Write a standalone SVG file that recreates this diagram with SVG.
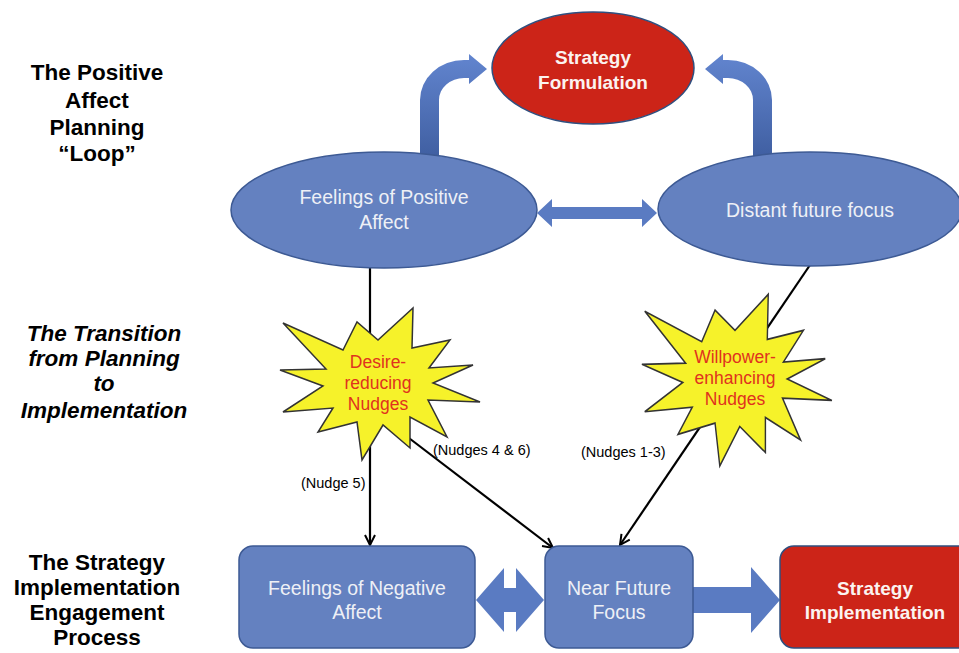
<svg xmlns="http://www.w3.org/2000/svg" width="959" height="653" viewBox="0 0 959 653">
<defs>
<style>
.lbl{font-family:"Liberation Sans",Arial,sans-serif;font-weight:bold;font-size:22.5px;fill:#000;text-anchor:middle}
.it{font-style:italic}
.bt{font-family:"Liberation Sans",Arial,sans-serif;font-size:19.5px;fill:#eef0f6;text-anchor:middle}
.rt{font-family:"Liberation Sans",Arial,sans-serif;font-size:19px;font-weight:bold;fill:#fbf3f0;text-anchor:middle}
.st{font-family:"Liberation Sans",Arial,sans-serif;font-size:17.5px;fill:#e0321e;text-anchor:middle}
.nt{font-family:"Liberation Sans",Arial,sans-serif;font-size:14.5px;fill:#000}
.blue{fill:#6481c0;stroke:#3d5a94;stroke-width:1.5}
.red{fill:#cc2418;stroke:#2f4f7f;stroke-width:1.5}
.bar{fill:#5a7bc2}
.conn{stroke:#000;stroke-width:2.2;fill:none;marker-end:url(#ah)}
.star{fill:#f6f22a;stroke:#333;stroke-width:1.5}
</style>
<linearGradient id="cg" x1="0" y1="0" x2="0" y2="1">
<stop offset="0" stop-color="#6285cf"/>
<stop offset="1" stop-color="#3d5c9e"/>
</linearGradient>
<marker id="ah" viewBox="0 0 14 14" markerWidth="14" markerHeight="14" refX="12" refY="7" orient="auto" markerUnits="userSpaceOnUse">
<path d="M2,2 L12,7 L2,12" fill="none" stroke="#000" stroke-width="2"/>
</marker>
<path id="curl" d="M420,165 V100 A44 40 0 0 1 464 60 H469 V54 L487 69 L469 84 V78 H464 A25 22 0 0 0 439 100 V165 Z" fill="url(#cg)"/>
<polygon id="starshape" points="-98,-13 -52,-14 -95,-60 -35,-33 -21,-61 0,-43 35,-75 34,-35 72,-43 51,-15 95,-18 55,0 102,19 50,17 69,54 32,34 32,65 5,42 -16,77 -21,39 -60,49 -45,25 -95,29 -55,3"/>
</defs>

<g id="labels">
<text class="lbl" x="97" y="80">The Positive</text>
<text class="lbl" x="97" y="108">Affect</text>
<text class="lbl" x="97" y="135">Planning</text>
<text class="lbl" x="97" y="161">“Loop”</text>
<text class="lbl it" x="104" y="341">The Transition</text>
<text class="lbl it" x="104" y="366">from Planning</text>
<text class="lbl it" x="104" y="391">to</text>
<text class="lbl it" x="104" y="418">Implementation</text>
<text class="lbl" x="97" y="570">The Strategy</text>
<text class="lbl" x="97" y="595">Implementation</text>
<text class="lbl" x="97" y="620">Engagement</text>
<text class="lbl" x="97" y="645">Process</text>
</g>

<g id="connectors">
<use href="#curl"/>
<use href="#curl" transform="translate(1192,0) scale(-1,1)"/>
<path class="bar" d="M537,213 L552,199 V207 H642 V199 L657,213 L642,227 V219 H552 V227 Z"/>
<path class="bar" d="M476,600 L504,568 V588 H516 V568 L544,600 L516,632 V612 H504 V632 Z"/>
<path class="bar" d="M693,587 H751 V567 L780,600 L751,633 V613 H693 Z"/>
<path class="conn" d="M370,268 V545"/>
<path class="conn" d="M405,435 L553,548"/>
<path class="conn" d="M810,265 L620,545"/>
<text class="nt" x="301" y="488">(Nudge 5)</text>
<text class="nt" x="433" y="455">(Nudges 4 &amp; 6)</text>
<text class="nt" x="581" y="457">(Nudges 1-3)</text>
</g>

<g id="strategy-formulation">
<ellipse class="red" cx="593" cy="68" rx="101" ry="56"/>
<text class="rt" x="593" y="64">Strategy</text>
<text class="rt" x="593" y="89">Formulation</text>
</g>

<g id="positive-affect">
<ellipse class="blue" cx="384" cy="210" rx="153" ry="58"/>
<text class="bt" x="384" y="204">Feelings of Positive</text>
<text class="bt" x="384" y="229">Affect</text>
</g>

<g id="distant-future">
<ellipse class="blue" cx="810" cy="209" rx="152" ry="57"/>
<text class="bt" x="810" y="217">Distant future focus</text>
</g>

<g id="desire-nudges">
<use href="#starshape" class="star" transform="translate(378,383)"/>
<text class="st" x="378" y="368">Desire-</text>
<text class="st" x="378" y="389">reducing</text>
<text class="st" x="378" y="410">Nudges</text>
</g>

<g id="willpower-nudges">
<use href="#starshape" class="star" transform="translate(735,379) scale(0.95,1.13)" style="vector-effect:non-scaling-stroke"/>
<text class="st" x="735" y="363">Willpower-</text>
<text class="st" x="735" y="384">enhancing</text>
<text class="st" x="735" y="405">Nudges</text>
</g>

<g id="negative-affect">
<rect class="blue" x="239" y="546" width="236" height="102" rx="14"/>
<text class="bt" x="357" y="595">Feelings of Negative</text>
<text class="bt" x="357" y="619">Affect</text>
</g>

<g id="near-future">
<rect class="blue" x="545" y="546" width="148" height="102" rx="14"/>
<text class="bt" x="619" y="595">Near Future</text>
<text class="bt" x="619" y="619">Focus</text>
</g>

<g id="strategy-implementation">
<rect class="red" x="780" y="546" width="195" height="102" rx="14"/>
<text class="rt" x="875" y="595">Strategy</text>
<text class="rt" x="875" y="619">Implementation</text>
</g>
</svg>
